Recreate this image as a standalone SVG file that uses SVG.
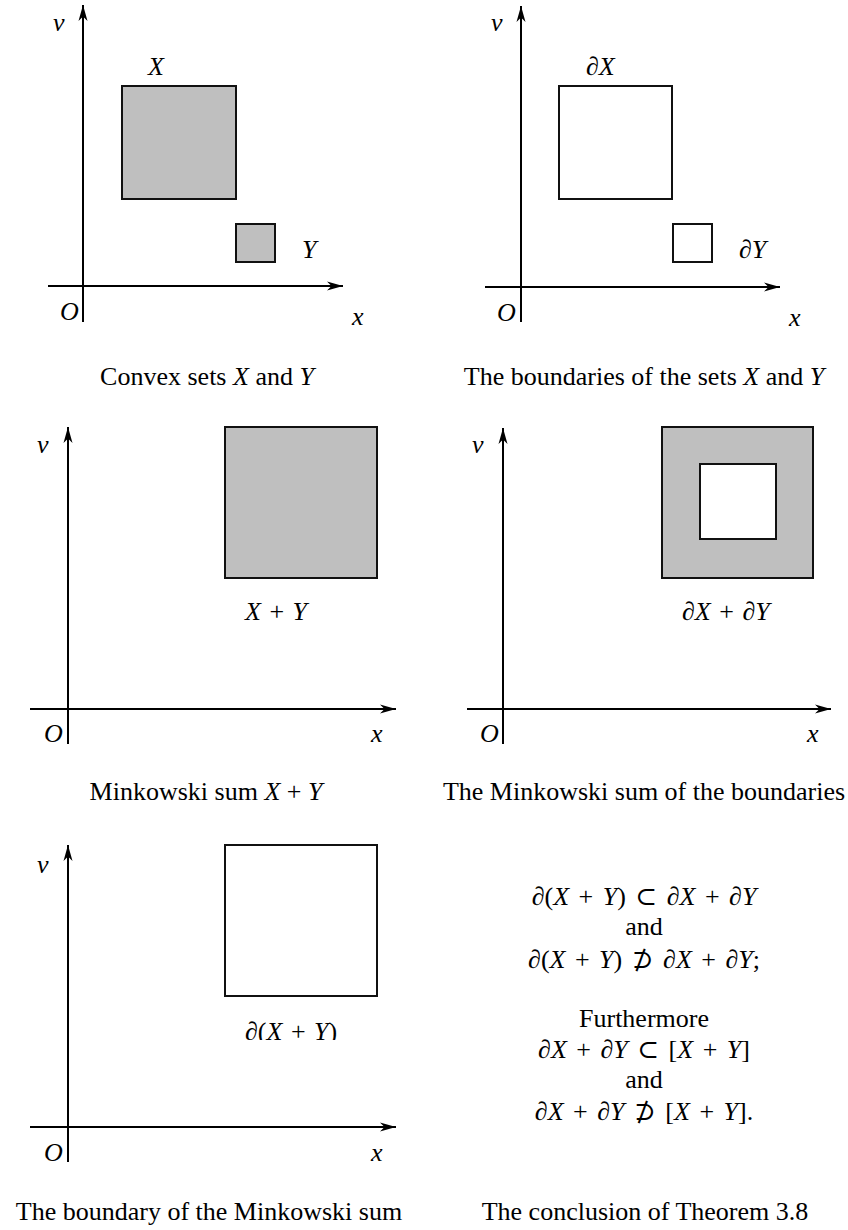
<svg xmlns="http://www.w3.org/2000/svg" width="848" height="1230" viewBox="0 0 848 1230">
<style>
.ax{stroke:#000;stroke-width:2;fill:none}
.sh{fill:#bfbfbf;stroke:#111;stroke-width:2}
.ol{fill:#fff;stroke:#111;stroke-width:2}
.m{font-family:"Liberation Serif","DejaVu Serif",serif;font-size:26px;font-style:italic;fill:#000;word-spacing:2px}
.u{font-style:normal}
.c{font-family:"Liberation Serif",serif;font-size:26px;fill:#000;text-anchor:middle}
.cm{font-style:italic}
.t{font-family:"Liberation Serif",serif;font-size:26px;fill:#000;text-anchor:middle}
.mc{font-family:"Liberation Serif","DejaVu Serif",serif;font-size:26px;font-style:italic;fill:#000;text-anchor:middle;word-spacing:3px}
</style>
<defs>
<marker id="arr" markerUnits="userSpaceOnUse" markerWidth="20" markerHeight="12" refX="16" refY="6" orient="auto">
<path d="M16,6 L0,1.5 L4.5,6 L0,10.5 Z" fill="#000"/>
</marker>
<clipPath id="clip5"><rect x="200" y="1000" width="200" height="40"/></clipPath>
</defs>
<rect width="848" height="1230" fill="#fff"/>

<g id="connectors">
<line class="ax" x1="83" y1="322" x2="83" y2="5" marker-end="url(#arr)"/>
<line class="ax" x1="48" y1="286" x2="343" y2="286" marker-end="url(#arr)"/>
<line class="ax" x1="521" y1="322" x2="521" y2="6" marker-end="url(#arr)"/>
<line class="ax" x1="485" y1="287" x2="780" y2="287" marker-end="url(#arr)"/>
<line class="ax" x1="68" y1="744" x2="68" y2="427" marker-end="url(#arr)"/>
<line class="ax" x1="30" y1="709" x2="396" y2="709" marker-end="url(#arr)"/>
<line class="ax" x1="503" y1="744" x2="503" y2="428" marker-end="url(#arr)"/>
<line class="ax" x1="467" y1="709" x2="831" y2="709" marker-end="url(#arr)"/>
<line class="ax" x1="68" y1="1162" x2="68" y2="845" marker-end="url(#arr)"/>
<line class="ax" x1="30" y1="1127" x2="396" y2="1127" marker-end="url(#arr)"/>
</g>

<g id="panel1">
<rect id="setX" class="sh" x="122" y="86" width="114" height="113"/>
<rect id="setY" class="sh" x="236" y="224" width="39" height="38"/>
<text class="m" x="53" y="31">ν</text>
<text class="m" x="148" y="75">X</text>
<text class="m" x="302" y="258">Y</text>
<text class="m" x="60" y="320">O</text>
<text class="m" x="352" y="325">x</text>
<text class="c" x="207" y="385">Convex sets <tspan class="cm">X</tspan> and <tspan class="cm">Y</tspan></text>
</g>

<g id="panel2">
<rect id="bX" class="ol" x="559" y="86" width="113" height="113"/>
<rect id="bY" class="ol" x="673" y="224" width="39" height="38"/>
<text class="m" x="491" y="31">ν</text>
<text class="m" x="586" y="75">∂X</text>
<text class="m" x="739" y="258">∂Y</text>
<text class="m" x="497" y="321">O</text>
<text class="m" x="789" y="326">x</text>
<text class="c" x="644" y="385">The boundaries of the sets <tspan class="cm">X</tspan> and <tspan class="cm">Y</tspan></text>
</g>

<g id="panel3">
<rect id="sumXY" class="sh" x="225" y="427" width="152" height="151"/>
<text class="m" x="37" y="453">ν</text>
<text class="m" x="245" y="620">X <tspan class="u">+</tspan> Y</text>
<text class="m" x="44" y="742">O</text>
<text class="m" x="371" y="742">x</text>
<text class="c" x="206" y="800">Minkowski sum <tspan class="cm">X</tspan> + <tspan class="cm">Y</tspan></text>
</g>

<g id="panel4">
<rect id="outer" class="sh" x="662" y="427" width="151" height="151"/>
<rect id="inner" class="ol" x="700" y="464" width="76" height="75"/>
<text class="m" x="472" y="453">ν</text>
<text class="m" x="682" y="620">∂X <tspan class="u">+</tspan> ∂Y</text>
<text class="m" x="480" y="742">O</text>
<text class="m" x="807" y="742">x</text>
<text class="c" x="644" y="800">The Minkowski sum of the boundaries</text>
</g>

<g id="panel5">
<rect id="bsum" class="ol" x="225" y="845" width="152" height="151"/>
<text class="m" x="37" y="873">ν</text>
<text class="m" x="245" y="1040" clip-path="url(#clip5)">∂<tspan class="u">(</tspan>X <tspan class="u">+</tspan> Y<tspan class="u">)</tspan></text>
<text class="m" x="44" y="1161">O</text>
<text class="m" x="371" y="1161">x</text>
<text class="c" x="209" y="1220">The boundary of the Minkowski sum</text>
</g>

<g id="panel6">
<text class="mc" x="644" y="905">∂<tspan class="u">(</tspan>X <tspan class="u">+</tspan> Y<tspan class="u">) ⊂ </tspan>∂X <tspan class="u">+</tspan> ∂Y</text>
<text class="t" x="644" y="935">and</text>
<text class="mc" x="644" y="968">∂<tspan class="u">(</tspan>X <tspan class="u">+</tspan> Y<tspan class="u">) ⊅ </tspan>∂X <tspan class="u">+</tspan> ∂Y<tspan class="u">;</tspan></text>
<text class="t" x="644" y="1027">Furthermore</text>
<text class="mc" x="644" y="1058">∂X <tspan class="u">+</tspan> ∂Y <tspan class="u">⊂ [</tspan>X <tspan class="u">+</tspan> Y<tspan class="u">]</tspan></text>
<text class="t" x="644" y="1088">and</text>
<text class="mc" x="644" y="1120">∂X <tspan class="u">+</tspan> ∂Y <tspan class="u">⊅ [</tspan>X <tspan class="u">+</tspan> Y<tspan class="u">].</tspan></text>
<text class="c" x="645" y="1220">The conclusion of Theorem 3.8</text>
</g>
</svg>
